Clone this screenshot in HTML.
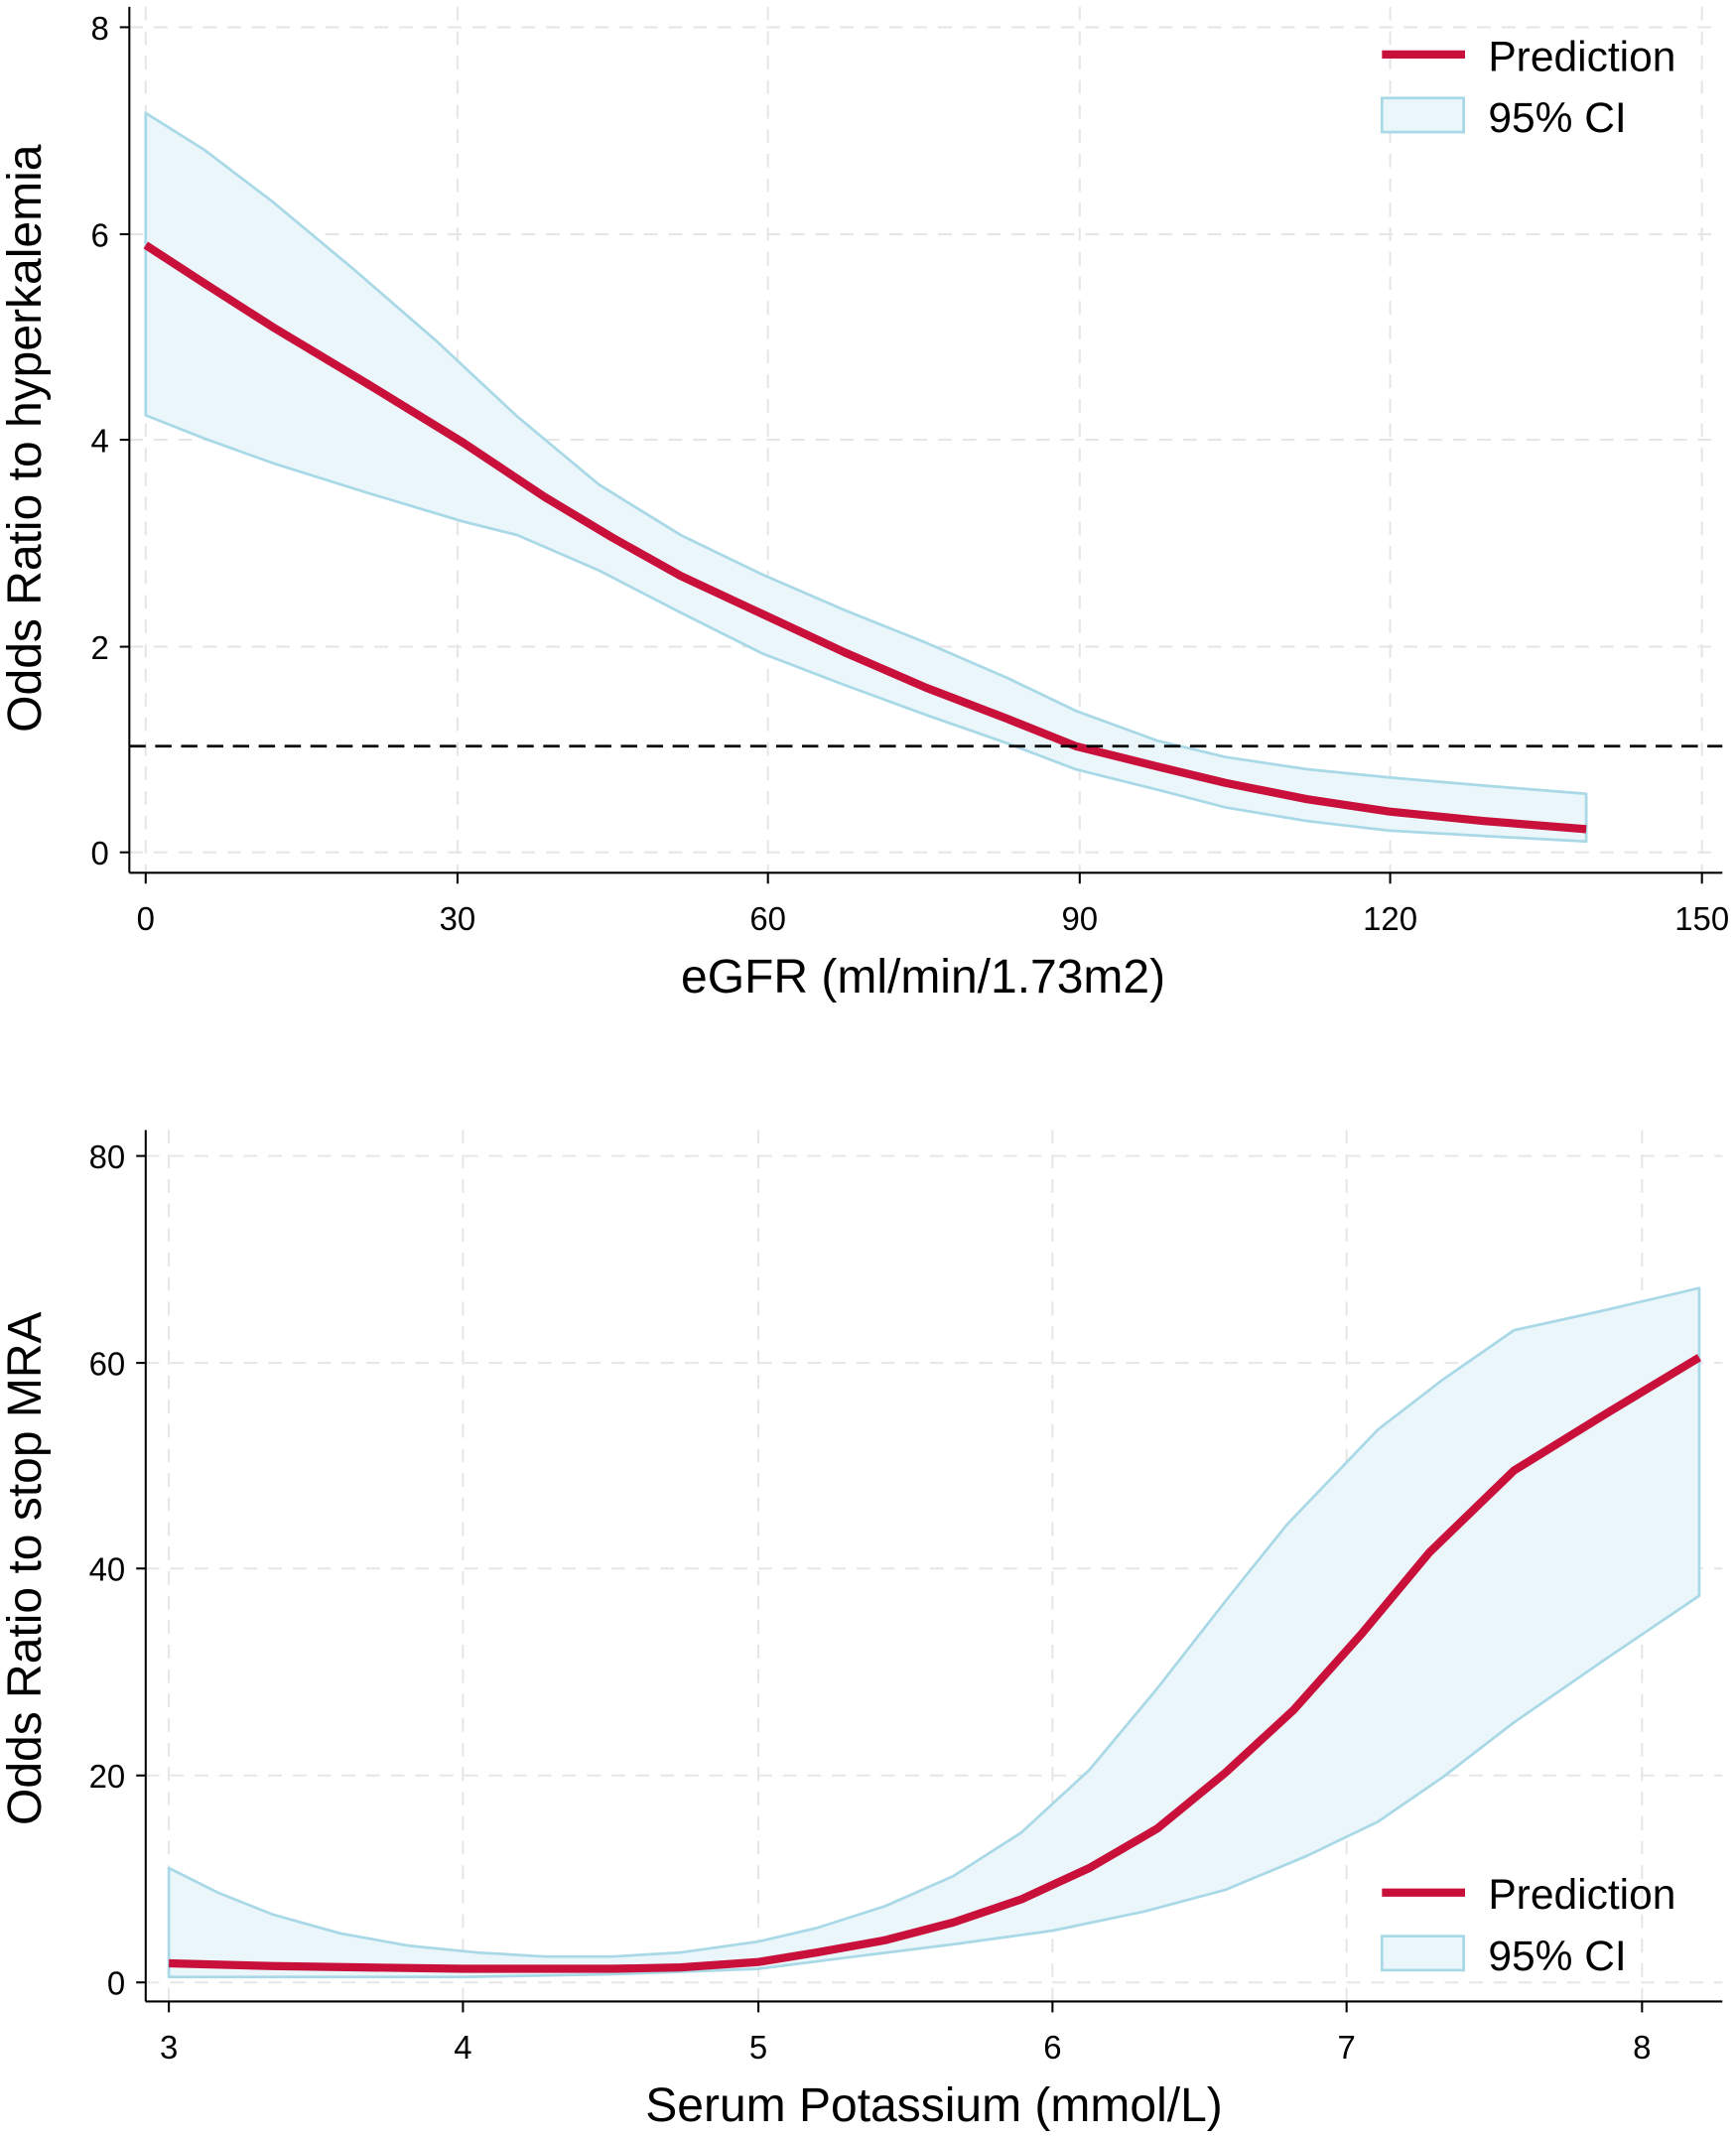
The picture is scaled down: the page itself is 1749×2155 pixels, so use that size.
<!DOCTYPE html>
<html><head><meta charset="utf-8"><style>html,body{margin:0;padding:0;background:#fff}svg{display:block}</style></head>
<body>
<svg width="1749" height="2155" viewBox="0 0 1275 1571" xmlns="http://www.w3.org/2000/svg" font-family="Liberation Sans, sans-serif">
<rect width="1275" height="1571" fill="#fff"/>
<!-- TOP -->
<g stroke="#e6e6e6" stroke-width="1.5" stroke-dasharray="10,8">
<line x1="95" y1="20" x2="1265" y2="20"/><line x1="95" y1="172" x2="1265" y2="172"/><line x1="95" y1="323" x2="1265" y2="323"/><line x1="95" y1="475" x2="1265" y2="475"/><line x1="95" y1="626" x2="1265" y2="626"/>
<line x1="107" y1="5" x2="107" y2="641"/><line x1="336" y1="5" x2="336" y2="641"/><line x1="564" y1="5" x2="564" y2="641"/><line x1="793" y1="5" x2="793" y2="641"/><line x1="1021" y1="5" x2="1021" y2="641"/><line x1="1250" y1="5" x2="1250" y2="641"/>
</g>
<polygon points="107,83 150,110 200,148 260,198 320,250 380,306 440,356 500,393 560,422 620,448 680,472 740,498 790,522 850,544 900,556 960,565 1020,571 1090,577 1165,583 1165,618 1090,614 1020,610 960,603 900,593 850,580 790,565 740,546 680,525 620,503 560,480 500,450 440,419 380,393 340,383 270,362 200,340 150,322 107,305" fill="#eaf6fa" stroke="#a9d9e7" stroke-width="2" stroke-linejoin="round"/>
<polyline points="107,180 150,208 200,240 270,282 340,325 400,365 450,395 500,423 560,451 620,479 680,505 740,528 790,548 850,563 900,575 960,587 1020,596 1090,603 1165,609" fill="none" stroke="#c8103a" stroke-width="6" stroke-linejoin="round"/>
<line x1="95" y1="548" x2="1265" y2="548" stroke="#000" stroke-width="2" stroke-dasharray="12,7"/>
<g stroke="#000" stroke-width="1.5">
<line x1="95" y1="5" x2="95" y2="641"/><line x1="95" y1="641" x2="1265" y2="641"/>
<line x1="88" y1="20" x2="95" y2="20"/><line x1="88" y1="172" x2="95" y2="172"/><line x1="88" y1="323" x2="95" y2="323"/><line x1="88" y1="475" x2="95" y2="475"/><line x1="88" y1="626" x2="95" y2="626"/>
<line x1="107" y1="641" x2="107" y2="649"/><line x1="336" y1="641" x2="336" y2="649"/><line x1="564" y1="641" x2="564" y2="649"/><line x1="793" y1="641" x2="793" y2="649"/><line x1="1021" y1="641" x2="1021" y2="649"/><line x1="1250" y1="641" x2="1250" y2="649"/>
</g>
<g font-size="24" fill="#000" text-anchor="end">
<text x="80" y="29">8</text><text x="80" y="181">6</text><text x="80" y="332">4</text><text x="80" y="484">2</text><text x="80" y="635">0</text></g>
<g font-size="24" fill="#000" text-anchor="middle">
<text x="107" y="683">0</text><text x="336" y="683">30</text><text x="564" y="683">60</text><text x="793" y="683">90</text><text x="1021" y="683">120</text><text x="1250" y="683">150</text></g>
<text x="678" y="729" font-size="35" text-anchor="middle">eGFR (ml/min/1.73m2)</text>
<text transform="translate(30,322) rotate(-90)" font-size="35" text-anchor="middle">Odds Ratio to hyperkalemia</text>
<line x1="1015" y1="40" x2="1076" y2="40" stroke="#c8103a" stroke-width="6"/>
<text x="1093" y="52" font-size="31">Prediction</text>
<rect x="1015" y="72" width="60" height="25" fill="#eaf6fa" stroke="#a9d9e7" stroke-width="2"/>
<text x="1093" y="97" font-size="31">95% CI</text>

<!-- BOTTOM -->
<g stroke="#e6e6e6" stroke-width="1.5" stroke-dasharray="10,8">
<line x1="107" y1="849" x2="1265" y2="849"/><line x1="107" y1="1001" x2="1265" y2="1001"/><line x1="107" y1="1152" x2="1265" y2="1152"/><line x1="107" y1="1304" x2="1265" y2="1304"/><line x1="107" y1="1456" x2="1265" y2="1456"/>
<line x1="124" y1="830" x2="124" y2="1470"/><line x1="340" y1="830" x2="340" y2="1470"/><line x1="557" y1="830" x2="557" y2="1470"/><line x1="773" y1="830" x2="773" y2="1470"/><line x1="989" y1="830" x2="989" y2="1470"/><line x1="1206" y1="830" x2="1206" y2="1470"/>
</g>
<polygon points="124,1372 160,1390 200,1406 250,1420 300,1429 350,1434 400,1437 450,1437 500,1434 557,1426 600,1416 650,1400 700,1378 750,1346 800,1300 850,1240 900,1176 945,1120 1012,1050 1060,1013 1112,977 1180,962 1248,946 1248,1172 1180,1218 1112,1265 1060,1305 1012,1338 960,1363 900,1388 840,1404 773,1418 700,1428 620,1438 557,1446 450,1450 340,1452 124,1452" fill="#eaf6fa" stroke="#a9d9e7" stroke-width="2" stroke-linejoin="round"/>
<polyline points="124,1442 200,1444 340,1446 450,1446 500,1445 557,1441 600,1434 650,1425 700,1412 750,1395 800,1372 850,1343 900,1302 950,1256 1000,1200 1050,1140 1112,1080 1180,1038 1248,997" fill="none" stroke="#c8103a" stroke-width="6" stroke-linejoin="round"/>
<g stroke="#000" stroke-width="1.5">
<line x1="107" y1="830" x2="107" y2="1470"/><line x1="107" y1="1470" x2="1265" y2="1470"/>
<line x1="100" y1="849" x2="107" y2="849"/><line x1="100" y1="1001" x2="107" y2="1001"/><line x1="100" y1="1152" x2="107" y2="1152"/><line x1="100" y1="1304" x2="107" y2="1304"/><line x1="100" y1="1456" x2="107" y2="1456"/>
<line x1="124" y1="1470" x2="124" y2="1478"/><line x1="340" y1="1470" x2="340" y2="1478"/><line x1="557" y1="1470" x2="557" y2="1478"/><line x1="773" y1="1470" x2="773" y2="1478"/><line x1="989" y1="1470" x2="989" y2="1478"/><line x1="1206" y1="1470" x2="1206" y2="1478"/>
</g>
<g font-size="24" fill="#000" text-anchor="end">
<text x="92" y="858">80</text><text x="92" y="1010">60</text><text x="92" y="1161">40</text><text x="92" y="1313">20</text><text x="92" y="1465">0</text></g>
<g font-size="24" fill="#000" text-anchor="middle">
<text x="124" y="1512">3</text><text x="340" y="1512">4</text><text x="557" y="1512">5</text><text x="773" y="1512">6</text><text x="989" y="1512">7</text><text x="1206" y="1512">8</text></g>
<text x="686" y="1558" font-size="35" text-anchor="middle">Serum Potassium (mmol/L)</text>
<text transform="translate(30,1152) rotate(-90)" font-size="35" text-anchor="middle">Odds Ratio to stop MRA</text>
<line x1="1015" y1="1390" x2="1076" y2="1390" stroke="#c8103a" stroke-width="6"/>
<text x="1093" y="1402" font-size="31">Prediction</text>
<rect x="1015" y="1422" width="60" height="25" fill="#eaf6fa" stroke="#a9d9e7" stroke-width="2"/>
<text x="1093" y="1447" font-size="31">95% CI</text>
</svg>
</body></html>
